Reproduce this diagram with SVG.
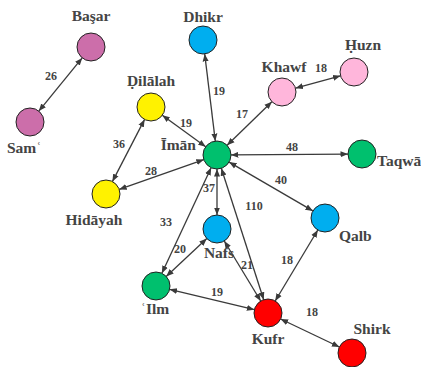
<svg xmlns="http://www.w3.org/2000/svg" width="421" height="367" viewBox="0 0 421 367">
<defs>
<marker id="ah" viewBox="0 0 10 10" refX="10" refY="5" markerWidth="7.5" markerHeight="7.5" markerUnits="userSpaceOnUse" orient="auto-start-reverse">
<path d="M0,1 L10,5 L0,9 Z" fill="#3a3a3a"/>
</marker>
</defs>
<style>
.e{stroke:#3a3a3a;stroke-width:1.3;fill:none;marker-start:url(#ah);marker-end:url(#ah)}
.n{stroke:#222;stroke-width:1}
.t{font-family:"Liberation Serif","DejaVu Serif",serif;font-weight:bold;fill:#444;font-size:15.5px}
.l{font-family:"Liberation Serif","DejaVu Serif",serif;font-weight:bold;fill:#444;font-size:12px;text-anchor:middle}
.pu{fill:#CC6EAA}.cy{fill:#00AEEF}.ye{fill:#FFF200}.gr{fill:#00C06E}.pk{fill:#FFB6DB}.rd{fill:#FF0000}
</style>
<rect width="421" height="367" fill="#fff"/>
<g id="connectors">
<line class="e" x1="82.2" y1="57.9" x2="38.8" y2="111.1"/>
<line class="e" x1="204.7" y1="53.9" x2="215.3" y2="141.1"/>
<line class="e" x1="162.3" y1="115.2" x2="205.7" y2="146.8"/>
<line class="e" x1="271.9" y1="101.7" x2="227.1" y2="145.3"/>
<line class="e" x1="295.5" y1="88.2" x2="340.5" y2="75.8"/>
<line class="e" x1="231" y1="154.9" x2="348" y2="154.1"/>
<line class="e" x1="144.6" y1="119.4" x2="112.4" y2="181.6"/>
<line class="e" x1="203.8" y1="159.6" x2="119.2" y2="189.4"/>
<line class="e" x1="217" y1="169" x2="217" y2="215"/>
<line class="e" x1="229.1" y1="162.1" x2="312.9" y2="210.9"/>
<line class="e" x1="221.3" y1="168.3" x2="263.7" y2="299.7"/>
<line class="e" x1="211.1" y1="167.7" x2="161.9" y2="273.3"/>
<line class="e" x1="206.8" y1="238.6" x2="166.2" y2="276.4"/>
<line class="e" x1="224.3" y1="241" x2="260.7" y2="301"/>
<line class="e" x1="317.8" y1="230" x2="275.2" y2="301"/>
<line class="e" x1="169.6" y1="289.3" x2="254.4" y2="309.7"/>
<line class="e" x1="280.6" y1="319" x2="339.4" y2="347"/>
<text class="l" x="51" y="80">26</text>
<text class="l" x="219" y="95">19</text>
<text class="l" x="186" y="127">19</text>
<text class="l" x="242" y="118">17</text>
<text class="l" x="321" y="72">18</text>
<text class="l" x="292" y="151">48</text>
<text class="l" x="119" y="148">36</text>
<text class="l" x="151" y="175">28</text>
<text class="l" x="209" y="192">37</text>
<text class="l" x="281" y="184">40</text>
<text class="l" x="254" y="210">110</text>
<text class="l" x="166" y="226">33</text>
<text class="l" x="180" y="253">20</text>
<text class="l" x="247" y="269">21</text>
<text class="l" x="287" y="264">18</text>
<text class="l" x="217" y="296">19</text>
<text class="l" x="312" y="316">18</text>
</g>
<g id="basar"><circle class="n pu" cx="91" cy="47" r="14"/><text class="t" x="91" y="21" text-anchor="middle">Başar</text></g>
<g id="sam"><circle class="n pu" cx="30" cy="122" r="14"/><text class="t" x="7" y="153">Samʿ</text></g>
<g id="dhikr"><circle class="n cy" cx="203" cy="40" r="14"/><text class="t" x="203" y="22" text-anchor="middle">Dhikr</text></g>
<g id="dilalah"><circle class="n ye" cx="151" cy="107" r="14"/><text class="t" x="151" y="86" text-anchor="middle">Ḍilālah</text></g>
<g id="hidayah"><circle class="n ye" cx="106" cy="194" r="14"/><text class="t" x="94" y="225" text-anchor="middle">Hidāyah</text></g>
<g id="iman"><circle class="n gr" cx="217" cy="155" r="14"/><text class="t" x="196" y="150" text-anchor="end">Īmān</text></g>
<g id="khawf"><circle class="n pk" cx="282" cy="92" r="14"/><text class="t" x="284" y="72" text-anchor="middle">Khawf</text></g>
<g id="huzn"><circle class="n pk" cx="354" cy="72" r="14"/><text class="t" x="363" y="50" text-anchor="middle">Ḥuzn</text></g>
<g id="taqwa"><circle class="n gr" cx="362" cy="154" r="14"/><text class="t" x="377" y="166">Taqwā</text></g>
<g id="qalb"><circle class="n cy" cx="325" cy="218" r="14"/><text class="t" x="339" y="241">Qalb</text></g>
<g id="nafs"><circle class="n cy" cx="217" cy="229" r="14"/><text class="t" x="219" y="258" text-anchor="middle">Nafs</text></g>
<g id="ilm"><circle class="n gr" cx="156" cy="286" r="14"/><text class="t" x="155" y="314" text-anchor="middle">ʿIlm</text></g>
<g id="kufr"><circle class="n rd" cx="268" cy="313" r="14"/><text class="t" x="268" y="344" text-anchor="middle">Kufr</text></g>
<g id="shirk"><circle class="n rd" cx="352" cy="353" r="14"/><text class="t" x="372" y="334" text-anchor="middle">Shirk</text></g>
</svg>
